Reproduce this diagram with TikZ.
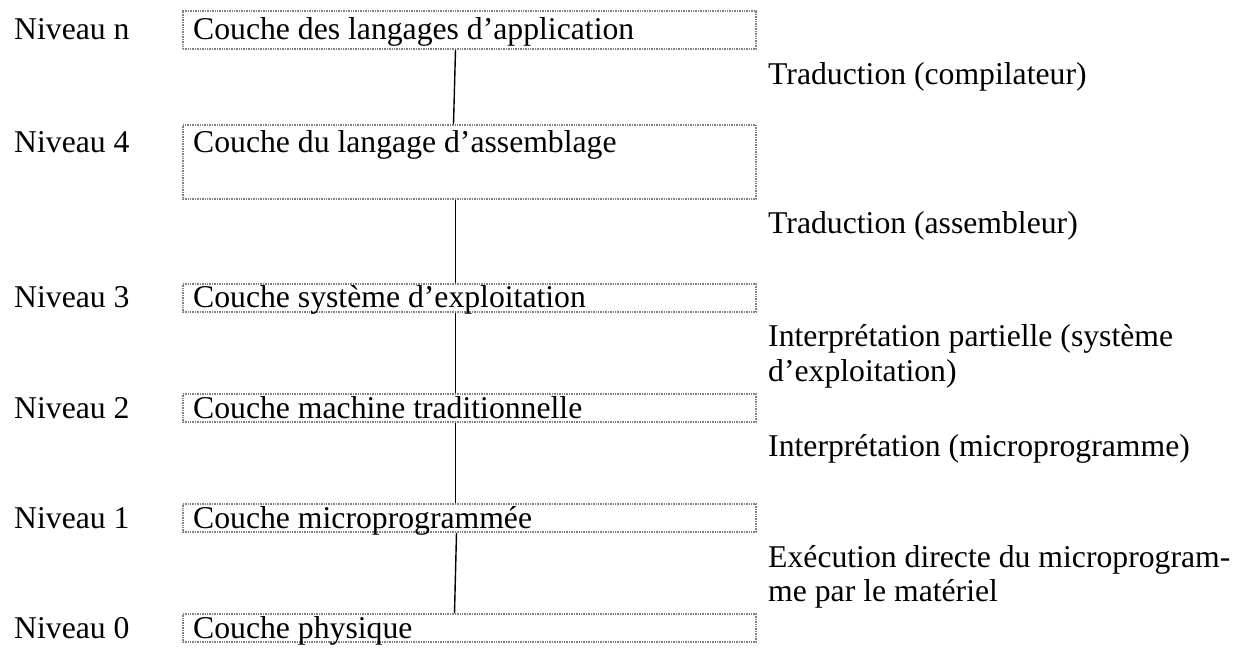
\documentclass[tikz,border=0pt]{standalone}
\usepackage{fontspec}
\setmainfont{Liberation Serif}
\begin{document}
\begin{tikzpicture}[x=1pt,y=-1pt,
  layerbox/.style={draw=black!50, line width=2pt, dash pattern=on 1pt off 0.7pt,
    anchor=north west, minimum width=573pt, inner sep=0pt},
  txt/.style={anchor=base west, inner sep=0pt, font=\fontsize{31.7}{36}\selectfont},
  link/.style={draw=black, line width=1.4pt}]
\useasboundingbox (0,0) rectangle (1239,650);

% layer boxes
\node[layerbox, minimum height=38pt] (b1) at (182,10) {};
\node[layerbox, minimum height=74pt] (b2) at (182,124) {};
\node[layerbox, minimum height=28pt] (b3) at (182,283) {};
\node[layerbox, minimum height=28pt] (b4) at (182,393) {};
\node[layerbox, minimum height=28pt] (b5) at (182,503) {};
\node[layerbox, minimum height=28pt] (b6) at (182,613) {};

% layer titles
\node[txt] (t1) at (193,40) {Couche des langages d’application};
\node[txt] (t2) at (193,153) {Couche du langage d’assemblage};
\node[txt] (t3) at (193,307) {Couche système d’exploitation};
\node[txt] (t4) at (193,418) {Couche machine traditionnelle};
\node[txt] (t5) at (193,528) {Couche microprogrammée};
\node[txt] (t6) at (193,638) {Couche physique};

% level labels
\node[txt] (n1) at (14,40) {Niveau n};
\node[txt] (n2) at (14,153) {Niveau 4};
\node[txt] (n3) at (14,307) {Niveau 3};
\node[txt] (n4) at (14,418) {Niveau 2};
\node[txt] (n5) at (14,528) {Niveau 1};
\node[txt] (n6) at (14,638) {Niveau 0};

% transitions between levels
\node[txt] (r1) at (768,85) {Traduction (compilateur)};
\node[txt] (r2) at (768,233) {Traduction (assembleur)};
\node[txt] (r3a) at (768,346) {Interprétation partielle (système};
\node[txt] (r3b) at (768,381) {d’exploitation)};
\node[txt] (r4) at (768,456) {Interprétation (microprogramme)};
\node[txt] (r5a) at (768,567) {Exécution directe du microprogram-};
\node[txt] (r5b) at (768,601) {me par le matériel};

% connectors
\draw[link] ([xshift=-14pt]b1.south) -- ([xshift=-16pt]b2.north);
\draw[link] ([xshift=-14pt]b2.south) -- ([xshift=-14pt]b3.north);
\draw[link] ([xshift=-14pt]b3.south) -- ([xshift=-14pt]b4.north);
\draw[link] ([xshift=-14pt]b4.south) -- ([xshift=-14pt]b5.north);
\draw[link] ([xshift=-13pt]b5.south) -- ([xshift=-15pt]b6.north);
\end{tikzpicture}
\end{document}
